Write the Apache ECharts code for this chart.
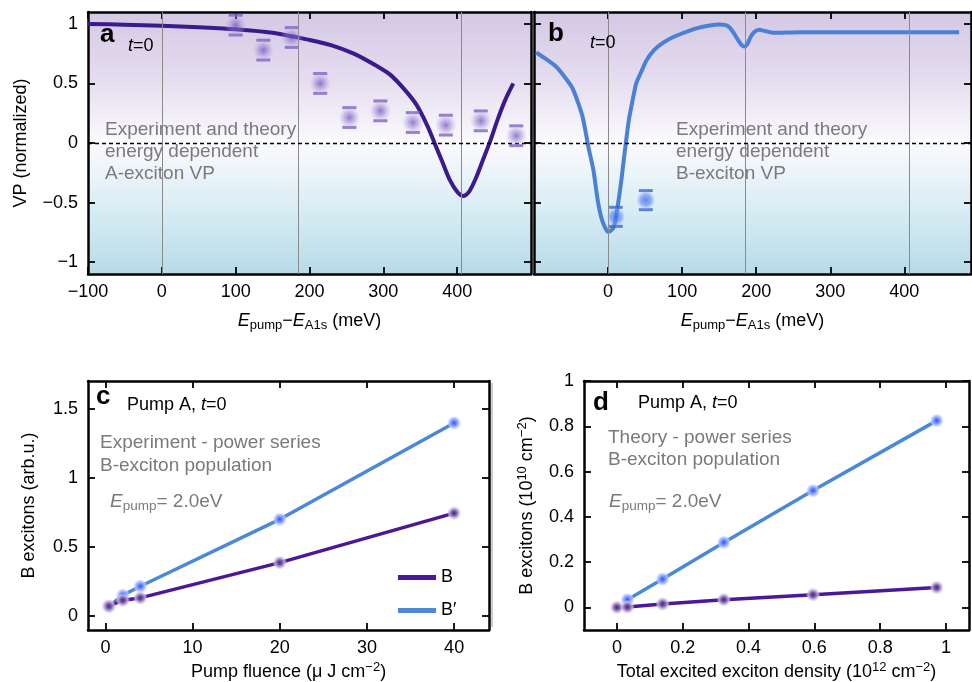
<!DOCTYPE html>
<html><head><meta charset="utf-8">
<script src="https://cdn.jsdelivr.net/npm/echarts@6/dist/echarts.min.js"></script>
<style>html,body{margin:0;padding:0;background:#fff}#c{width:972px;height:682px}</style>
</head><body><div id="c"></div><script>
// ---------- data ----------
const aTheoryX = [-100,-50,0,50,100,150,200,230,260,290,310,330,345,360,370,380,390,400,408,416,425,435,445,455,465,476];
const aTheoryY = [1.0,0.993,0.985,0.972,0.955,0.925,0.865,0.82,0.75,0.65,0.57,0.44,0.32,0.14,-0.01,-0.16,-0.31,-0.41,-0.445,-0.41,-0.3,-0.14,0.02,0.2,0.36,0.5];
const aExpX = [100,137.5,176,214.5,254,296,340,384.6,432,480];
const aExpY = [0.99,0.78,0.886,0.5,0.214,0.27,0.172,0.15,0.186,0.061];
const aExpErr = [0.083,0.083,0.083,0.083,0.083,0.083,0.083,0.083,0.083,0.083];

const bTheoryX = [-97,-85,-70,-58,-48,-40,-34,-26,-20,-14,-9,-4,0,4,8,12,18,22,28,33,38,45,52,62,74,88,100,118,137,150,159,165,170,176,180,184,188,192,197,204,212,224,260,320,400,474];
const bTheoryY = [0.76,0.71,0.64,0.55,0.46,0.33,0.21,-0.05,-0.22,-0.48,-0.63,-0.71,-0.745,-0.735,-0.70,-0.57,-0.31,-0.10,0.19,0.355,0.50,0.60,0.695,0.78,0.84,0.89,0.92,0.96,0.986,0.995,0.99,0.965,0.92,0.86,0.825,0.81,0.83,0.885,0.93,0.95,0.94,0.925,0.93,0.93,0.93,0.93];
const bExpX = [10.4,51];
const bExpY = [-0.62,-0.48];
const bExpErr = [0.08,0.08];

const levelX = [0,185,406];
const levelName = ['A','A','B'];
const levelSub = ['1s','2s','1s'];

const cFluence = [0.4,2,4,20,40];
const cB = [0.072,0.115,0.132,0.387,0.745];
const cBp = [0.072,0.151,0.216,0.70,1.397];

const dDensity = [0,0.032,0.139,0.325,0.596,0.972];
const dB = [0,0.0015,0.015,0.034,0.056,0.088];
const dBpX = [0.032,0.139,0.325,0.596,0.972];
const dBp = [0.034,0.125,0.287,0.516,0.825];

const aXTicks = [-100,0,100,200,300,400];
const aYTicks = [-1,-0.5,0,0.5,1];
const bXTicks = [0,100,200,300,400];
const cXTicks = [0,10,20,30,40];
const cYTicks = [0,0.5,1,1.5];
const dXTicks = [0,0.2,0.4,0.6,0.8,1];
const dYTicks = [0,0.2,0.4,0.6,0.8,1];

// ---------- styles ----------
const FONT = 'Liberation Sans, Arial, Helvetica, sans-serif';
const zip = (xs, ys) => xs.map((x, i) => [x, ys[i]]);
const fmt = v => String(v).replace('-', '\u2212');
const RG = echarts.graphic.RadialGradient;
const LG = echarts.graphic.LinearGradient;
const GRAY = '#7a7a7a';

const richBase = {
  n: {fontSize: 18, fontFamily: FONT, color: '#000'},
  i: {fontSize: 18, fontFamily: FONT, fontStyle: 'italic', color: '#000'},
  s: {fontSize: 13, fontFamily: FONT, color: '#000', padding: [9, 0, 0, 0]},
  p: {fontSize: 13, fontFamily: FONT, color: '#000', padding: [0, 0, 9, 0]}
};
const richG = {
  n: {fontSize: 18, fontFamily: FONT, fill: '#000'},
  i: {fontSize: 18, fontFamily: FONT, fontStyle: 'italic', fill: '#000'},
  b: {fontSize: 26, fontWeight: 'bold', fontFamily: FONT, fill: '#000'},
  g: {fontSize: 19, fontFamily: FONT, fill: GRAY},
  gi: {fontSize: 19, fontFamily: FONT, fontStyle: 'italic', fill: GRAY},
  gs: {fontSize: 13.5, fontFamily: FONT, fill: GRAY, padding: [9, 0, 0, 0]}
};

function xAx(grid, min, max, ticks, pos, labels, name, nameGap) {
  return {
    type: 'value', gridIndex: grid, min: min, max: max, position: pos,
    axisLine: {show: true, onZero: false, lineStyle: {color: '#000', width: 2.5}},
    axisTick: {show: true, inside: true, length: 7, lineStyle: {color: '#000', width: 1.8}, customValues: ticks},
    axisLabel: {show: labels, customValues: ticks, formatter: fmt, fontSize: 18, fontFamily: FONT, color: '#000', margin: 9},
    splitLine: {show: false},
    name: name || '', nameLocation: 'middle', nameGap: nameGap || 30,
    nameTextStyle: {fontSize: 18, fontFamily: FONT, color: '#000', rich: richBase}
  };
}
function yAx(grid, min, max, ticks, pos, labels, name, nameGap) {
  const o = xAx(grid, min, max, ticks, pos, labels, name, nameGap);
  o.axisLabel.margin = 10;
  return o;
}

const bgGrad = new LG(0, 0, 0, 1, [
  {offset: 0, color: '#d4c8e4'},
  {offset: 0.25, color: '#e4dcef'},
  {offset: 0.5, color: '#fbfafd'},
  {offset: 0.75, color: '#d9edf4'},
  {offset: 1, color: '#b6dbe8'}
]);

const gridFrame = {show: true, borderWidth: 0, containLabel: false};

const aDot = new RG(0.5, 0.5, 0.5, [
  {offset: 0, color: 'rgba(105,75,185,0.9)'},
  {offset: 0.5, color: 'rgba(150,125,210,0.6)'},
  {offset: 1, color: 'rgba(195,180,230,0.1)'}
]);
const bDot = new RG(0.5, 0.5, 0.5, [
  {offset: 0, color: 'rgba(55,105,230,0.95)'},
  {offset: 0.6, color: 'rgba(100,140,240,0.8)'},
  {offset: 1, color: 'rgba(150,175,245,0.2)'}
]);
const purpDot = new RG(0.5, 0.5, 0.5, [
  {offset: 0, color: '#4a1f8a'},
  {offset: 0.35, color: '#7a5aa8'},
  {offset: 0.7, color: 'rgba(195,180,215,0.85)'},
  {offset: 1, color: 'rgba(215,205,230,0.1)'}
]);
const blueDot = new RG(0.5, 0.5, 0.5, [
  {offset: 0, color: '#3552ff'},
  {offset: 0.35, color: '#6f8cff'},
  {offset: 0.7, color: 'rgba(175,192,255,0.85)'},
  {offset: 1, color: 'rgba(205,215,255,0.1)'}
]);

const COL_A = '#3b1a8e', COL_B = '#4a80d6', COL_PB = '#4b189a', COL_PBP = '#4a88d8';

function vlines() {
  return {
    silent: true, symbol: 'none', label: {show: false},
    lineStyle: {color: '#8a8a8a', width: 1, type: 'solid'},
    data: levelX.map(x => ({xAxis: x})).concat([{yAxis: 0, lineStyle: {color: '#000', type: [4, 3], width: 1.3}}])
  };
}
function levelSeries(xi, yi) {
  return {
    type: 'scatter', xAxisIndex: xi, yAxisIndex: yi, symbolSize: 1, silent: true,
    itemStyle: {opacity: 0},
    data: levelX.map(x => [x, -0.88]),
    label: {show: true, position: 'right', distance: 8,
      formatter: p => '{n|' + levelName[p.dataIndex] + '}{s|' + levelSub[p.dataIndex] + '}',
      rich: richBase}
  };
}
function caps(xi, yi, xs, ys, es, sign, color) {
  return {
    type: 'scatter', xAxisIndex: xi, yAxisIndex: yi, symbol: 'rect', symbolSize: [14, 3], silent: true, z: 4,
    itemStyle: {color: color},
    data: xs.map((x, i) => [x, ys[i] + sign * es[i]])
  };
}
function txt(x, y, t) {
  return {type: 'text', x: x, y: y, z: 100, style: {text: t, verticalAlign: 'middle', align: 'left', rich: richG}};
}
function gray(x, y, t) {
  return {type: 'text', x: x, y: y, z: 100, style: {text: t, verticalAlign: 'middle', align: 'left',
    fontSize: 19, fontFamily: FONT, fill: GRAY}};
}

const option = {
  animation: false,
  backgroundColor: '#fff',
  grid: [
    Object.assign({left: 88, top: 12, width: 443, height: 262, backgroundColor: bgGrad}, gridFrame),
    Object.assign({left: 534, top: 12, width: 437, height: 262, backgroundColor: bgGrad}, gridFrame),
    Object.assign({left: 88, top: 381, width: 401, height: 250, backgroundColor: '#fff'}, gridFrame),
    Object.assign({left: 584, top: 381, width: 385, height: 249, backgroundColor: '#fff'}, gridFrame)
  ],
  xAxis: [
    xAx(0, -100, 500, aXTicks, 'bottom', true, '{i|E}{s|pump}{n|\u2212}{i|E}{s|A1s}{n| (meV)}', 36),
    xAx(0, -100, 500, aXTicks, 'top', false),
    xAx(1, -100, 490, bXTicks, 'bottom', true, '{i|E}{s|pump}{n|\u2212}{i|E}{s|A1s}{n| (meV)}', 36),
    xAx(1, -100, 490, bXTicks, 'top', false),
    xAx(2, -2, 44, cXTicks, 'bottom', true, '{n|Pump fluence (\u03bc J cm}{p|\u22122}{n|)}', 31),
    xAx(2, -2, 44, cXTicks, 'top', false),
    xAx(3, -0.1, 1.07, dXTicks, 'bottom', true, '{n|Total excited exciton density (10}{p|12}{n| cm}{p|\u22122}{n|)}', 31),
    xAx(3, -0.1, 1.07, dXTicks, 'top', false)
  ],
  yAxis: [
    yAx(0, -1.1, 1.1, aYTicks, 'left', true, '{n|VP (normalized)}', 58),
    yAx(0, -1.1, 1.1, aYTicks, 'right', false),
    yAx(1, -1.1, 1.1, aYTicks, 'left', false),
    yAx(1, -1.1, 1.1, aYTicks, 'right', false),
    yAx(2, -0.1, 1.7, cYTicks, 'left', true, '{n|B excitons (arb.u.)}', 50),
    yAx(2, -0.1, 1.7, cYTicks, 'right', false),
    yAx(3, -0.1, 1.0, dYTicks, 'left', true, '{n|B excitons (10}{p|10}{n| cm}{p|\u22122}{n|)}', 46),
    yAx(3, -0.1, 1.0, dYTicks, 'right', false)
  ],
  legend: {
    orient: 'vertical', left: 393, top: 562, itemWidth: 38, itemHeight: 5, itemGap: 12,
    textStyle: {fontSize: 18, fontFamily: FONT, color: '#000', lineHeight: 21},
    data: [
      {name: 'B', icon: 'rect', itemStyle: {color: COL_PB, borderWidth: 0}},
      {name: 'B\u2032', icon: 'rect', itemStyle: {color: COL_PBP, borderWidth: 0}}
    ]
  },
  series: [
    {type: 'line', name: 'a theory', xAxisIndex: 0, yAxisIndex: 0, data: zip(aTheoryX, aTheoryY), smooth: 0.3,
      showSymbol: false, lineStyle: {color: COL_A, width: 4}, z: 3, markLine: vlines()},
    {type: 'scatter', name: 'a exp', xAxisIndex: 0, yAxisIndex: 0, data: zip(aExpX, aExpY), symbolSize: 21, z: 5,
      itemStyle: {color: aDot}},
    caps(0, 0, aExpX, aExpY, aExpErr, 1, '#7d5fc6'),
    caps(0, 0, aExpX, aExpY, aExpErr, -1, '#7d5fc6'),
    levelSeries(0, 0),
    {type: 'line', name: 'b theory', xAxisIndex: 2, yAxisIndex: 2, data: zip(bTheoryX, bTheoryY), smooth: 0.25,
      showSymbol: false, lineStyle: {color: COL_B, width: 4}, z: 3, markLine: vlines()},
    {type: 'scatter', name: 'b exp', xAxisIndex: 2, yAxisIndex: 2, data: zip(bExpX, bExpY), symbolSize: 18, z: 5,
      itemStyle: {color: bDot}},
    caps(2, 2, bExpX, bExpY, bExpErr, 1, '#3d68cc'),
    caps(2, 2, bExpX, bExpY, bExpErr, -1, '#3d68cc'),
    levelSeries(2, 2),
    {type: 'line', name: 'B', xAxisIndex: 4, yAxisIndex: 4, data: zip(cFluence, cB), symbol: 'circle', symbolSize: 14,
      color: COL_PB, lineStyle: {color: COL_PB, width: 3.5}, itemStyle: {color: purpDot}, z: 3},
    {type: 'line', name: 'B\u2032', xAxisIndex: 4, yAxisIndex: 4, data: zip(cFluence, cBp), symbol: 'circle', symbolSize: 14,
      color: COL_PBP, lineStyle: {color: COL_PBP, width: 3.5}, itemStyle: {color: blueDot}, z: 2},
    {type: 'line', name: 'dB', xAxisIndex: 6, yAxisIndex: 6, data: zip(dDensity, dB), symbol: 'circle', symbolSize: 14,
      lineStyle: {color: COL_PB, width: 3.5}, itemStyle: {color: purpDot}, z: 3},
    {type: 'line', name: 'dB\u2032', xAxisIndex: 6, yAxisIndex: 6, data: zip(dBpX, dBp), symbol: 'circle', symbolSize: 14,
      lineStyle: {color: COL_PBP, width: 3.5}, itemStyle: {color: blueDot}, z: 2}
  ],
  graphic: [
    txt(100, 35, '{b|a}'),
    txt(128, 46, '{i|t}{n|=0}'),
    gray(105, 130, 'Experiment and theory'),
    gray(105, 152, 'energy dependent'),
    gray(105, 174, 'A-exciton VP'),
    txt(548, 34, '{b|b}'),
    txt(590, 43, '{i|t}{n|=0}'),
    gray(676, 130, 'Experiment and theory'),
    gray(676, 152, 'energy dependent'),
    gray(676, 174, 'B-exciton VP'),
    txt(96, 397, '{b|c}'),
    txt(127, 405, '{n|Pump A, }{i|t}{n|=0}'),
    gray(100, 443, 'Experiment - power series'),
    gray(100, 466, 'B-exciton population'),
    txt(110, 502, '{gi|E}{gs|pump}{g|= 2.0eV}'),
    txt(593, 403, '{b|d}'),
    txt(638, 403, '{n|Pump A, }{i|t}{n|=0}'),
    gray(608, 438, 'Theory - power series'),
    gray(608, 460, 'B-exciton population'),
    txt(609, 502, '{gi|E}{gs|pump}{g|= 2.0eV}'),
    {type: 'line', shape: {x1: 492, y1: 383, x2: 492, y2: 627}, style: {stroke: '#9a9a9a', lineWidth: 1}}
  ]
};

const chart = echarts.init(document.getElementById('c'), null, {renderer: 'canvas'});
chart.setOption(option);
</script></body></html>
